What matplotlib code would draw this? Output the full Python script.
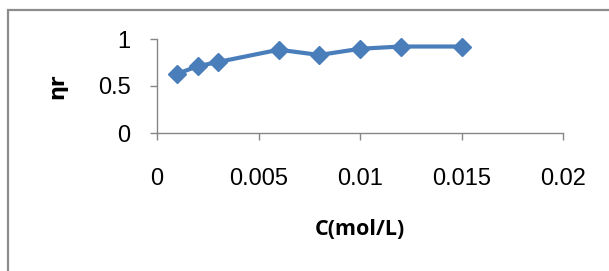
import matplotlib
matplotlib.use("Agg")
import matplotlib.pyplot as plt
from matplotlib.patches import Rectangle

conc = [0.001, 0.002, 0.003, 0.006, 0.008, 0.010, 0.012, 0.015]
eta_r = [0.63, 0.71, 0.755, 0.886, 0.83, 0.896, 0.92, 0.92]
x_ticks = [0, 0.005, 0.01, 0.015, 0.02]
x_tick_labels = ["0", "0.005", "0.01", "0.015", "0.02"]
y_ticks = [0, 0.5, 1]
y_tick_labels = ["0", "0.5", "1"]

plt.rcParams['font.family'] = ['Liberation Sans', 'DejaVu Sans']

fig = plt.figure(figsize=(6.09, 2.71), dpi=100)
fig.patches.append(Rectangle((8/609, -0.1), 1.2, 1 - 10/271 + 0.1, transform=fig.transFigure,
                             fill=False, edgecolor='#8c8c8c', linewidth=1.6))

ax = fig.add_axes([157/609, 1 - 133/271, (563 - 157)/609, (133 - 39)/271])
ax.plot(conc, eta_r, color='#4a7ebb', linewidth=3.0, marker='D', markersize=9,
        markerfacecolor='#4a7ebb', markeredgecolor='#4a7ebb', markeredgewidth=1,
        clip_on=False)
ax.set_xlim(0, 0.02)
ax.set_ylim(0, 1)
ax.set_xticks(x_ticks)
ax.set_xticklabels(x_tick_labels)
ax.set_yticks(y_ticks)
ax.set_yticklabels(y_tick_labels)
for s in ['top', 'right']:
    ax.spines[s].set_visible(False)
for s in ['left', 'bottom']:
    ax.spines[s].set_color('#868686')
    ax.spines[s].set_linewidth(1.0)
ax.tick_params(axis='both', direction='out', length=5, width=1.0, color='#868686',
               labelsize=17, labelcolor='#000000')
ax.tick_params(axis='x', pad=20)
ax.tick_params(axis='y', pad=14)
ax.set_ylabel('ηr', fontsize=15, fontweight='bold', labelpad=22, family=['DejaVu Sans'])
ax.set_xlabel('C(mol/L)', fontsize=15.5, fontweight='bold', labelpad=21,
              family=['Open Sans', 'DejaVu Sans'])

fig.savefig('out.png', dpi=100)
